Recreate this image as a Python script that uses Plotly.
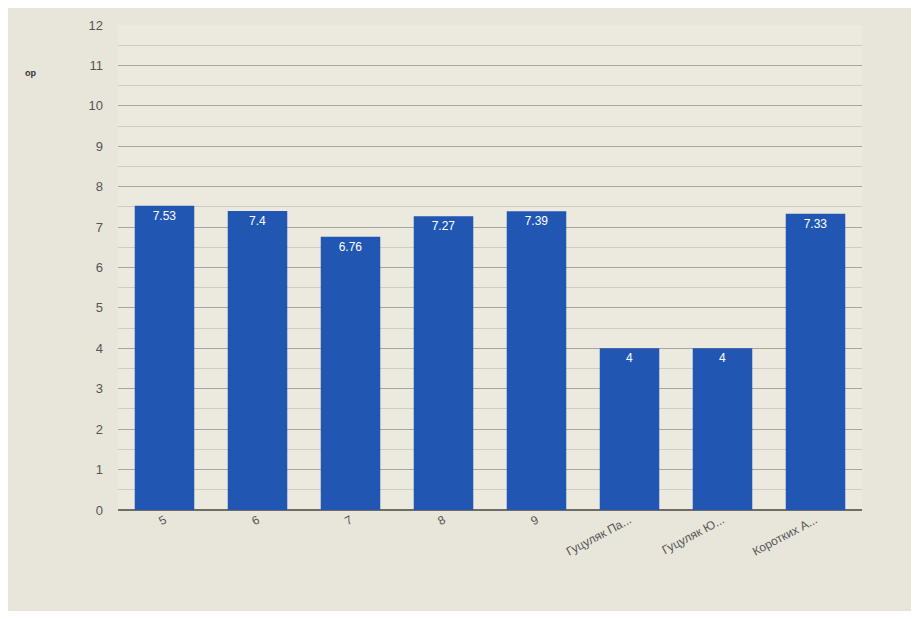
import plotly.graph_objects as go

categories = ["5", "6", "7", "8", "9", "Гуцуляк Па...", "Гуцуляк Ю...", "Коротких А..."]
values = [7.53, 7.4, 6.76, 7.27, 7.39, 4, 4, 7.33]
value_labels = ["7.53", "7.4", "6.76", "7.27", "7.39", "4", "4", "7.33"]
y_ticks = list(range(0, 13))

fig = go.Figure(go.Bar(
    x=categories,
    y=values,
    text=value_labels,
    textposition="inside",
    insidetextanchor="end",
    textfont=dict(color="white", size=12, family="Liberation Sans"),
    marker=dict(color="#2157b3", line=dict(width=0)),
    width=0.64,
))

fig.update_layout(
    width=903, height=603,
    margin=dict(l=110, r=49, t=10, b=101),
    paper_bgcolor="#e8e5da",
    plot_bgcolor="#ece9df",
    showlegend=False,
    font=dict(family="Liberation Sans", color="#555555", size=12),
)
fig.update_yaxes(
    range=[0, 12], tickvals=y_ticks, showgrid=True, gridcolor="#a8a69e", gridwidth=1,
    minor=dict(dtick=0.5, showgrid=True, gridcolor="#cfccc3"),
    zeroline=True, zerolinecolor="#6e6c66", zerolinewidth=1.5,
    ticks="", ticklabelstandoff=14, tickfont=dict(size=13, color="#555555"),
)
fig.update_xaxes(
    tickangle=-28, ticks="", showgrid=False, showline=False,
    tickfont=dict(size=12, color="#555555"),
)
fig.add_annotation(x=-0.128, y=0.915, xref="paper", yref="paper", xanchor="left",
                   text="<b>ор</b>", showarrow=False, font=dict(size=9, color="#333333"))

fig.write_html("out.html")
